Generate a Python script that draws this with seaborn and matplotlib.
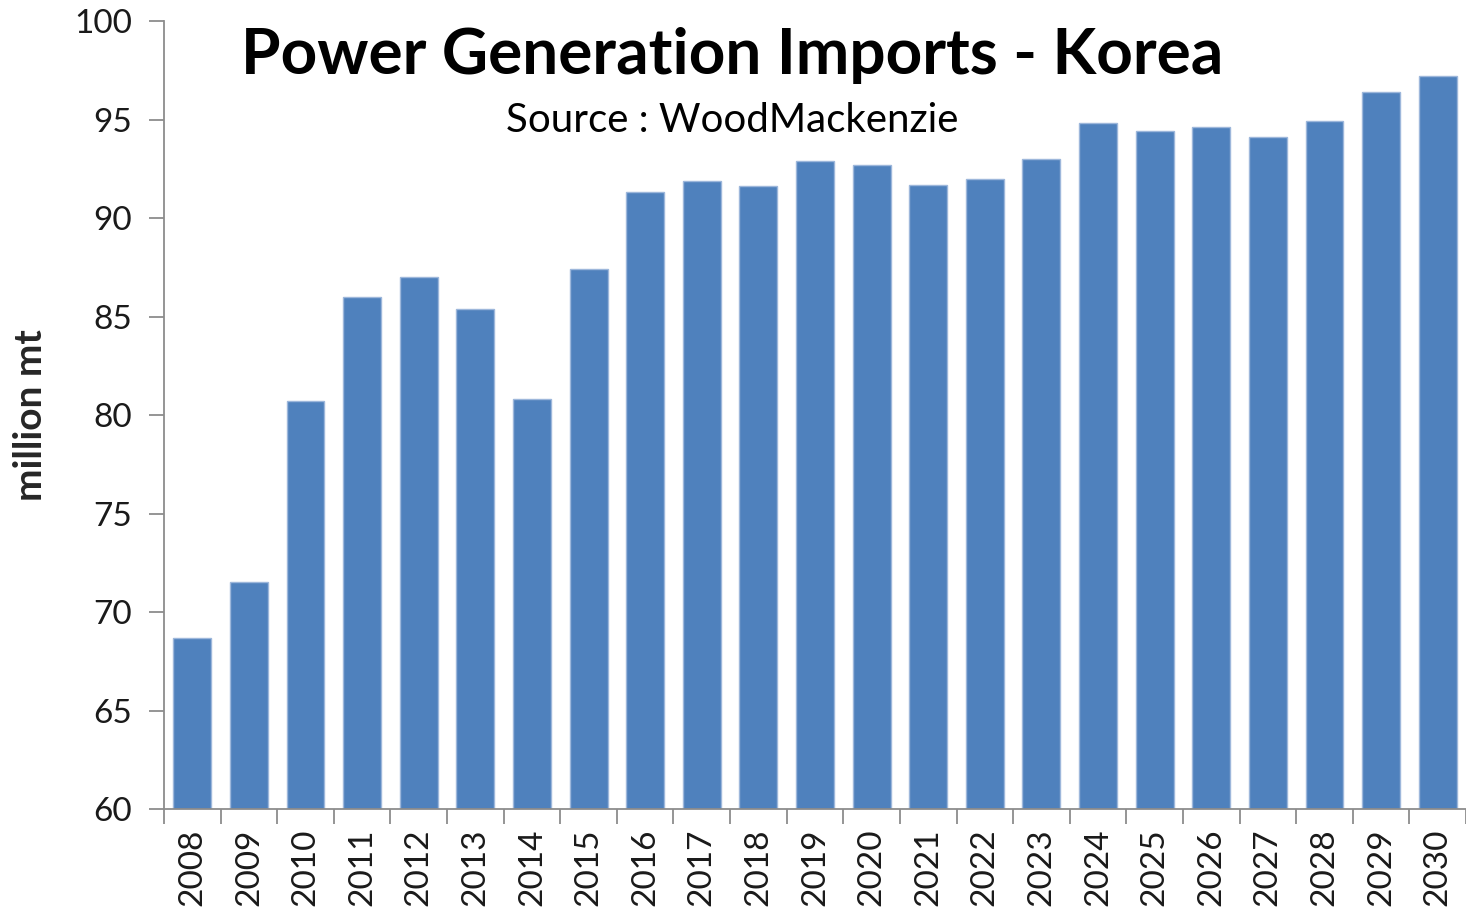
import matplotlib
matplotlib.use("Agg")
import matplotlib.pyplot as plt
import pandas as pd
import seaborn as sns

years = [str(y) for y in range(2008, 2031)]
imports_mt = [
    68.7, 71.5, 80.7, 86.0, 87.0, 85.4, 80.8, 87.4, 91.3, 91.9, 91.6, 92.9,
    92.7, 91.7, 92.0, 93.0, 94.8, 94.4, 94.6, 94.1, 94.9, 96.4, 97.2,
]
y_ticks = [60, 65, 70, 75, 80, 85, 90, 95, 100]

df = pd.DataFrame({"year": years, "imports": imports_mt})

sns.set_style("white")
plt.rcParams["font.family"] = ["Lato", "DejaVu Sans"]

fig = plt.figure(figsize=(14.66, 9.13), dpi=100)
ax = fig.add_axes([164 / 1466, 1 - 809 / 913, 1302 / 1466, (809 - 21) / 913])

sns.barplot(
    data=df,
    x="year",
    y="imports",
    color="#4F81BD",
    saturation=1,
    width=0.67,
    edgecolor="#9DB7DB",
    linewidth=1,
    ax=ax,
)

ax.set_ylim(60, 100)
ax.set_yticks(y_ticks)
ax.set_xlim(-0.5, len(years) - 0.5)
ax.set_xticks(range(len(years)))
ax.set_xticklabels(years, rotation=90)
ax.set_xticks([i - 0.5 for i in range(len(years) + 1)], minor=True)

ax.tick_params(axis="x", which="major", length=0, labelsize=24, pad=14, bottom=True)
ax.tick_params(axis="x", which="minor", length=11, width=1.3, color="#8C8C8C",
               direction="out", bottom=True)
ax.tick_params(axis="y", length=11, width=1.3, color="#8C8C8C", labelsize=24, pad=12,
               direction="out", left=True)
for t in ax.get_xticklabels() + ax.get_yticklabels():
    t.set_color("#1A1A1A")

for side in ["top", "right"]:
    ax.spines[side].set_visible(False)
for side in ["left", "bottom"]:
    ax.spines[side].set_color("#8C8C8C")
    ax.spines[side].set_linewidth(1.3)

ax.set_xlabel("")
ax.set_ylabel("million mt", fontsize=28, fontweight="bold")
ax.yaxis.set_label_coords((48 - 164) / 1302, 0.5)

fig.text(732 / 1466, 1 - 55 / 913, "Power Generation Imports - Korea",
         ha="center", va="center", fontsize=46, fontweight="bold", color="black")
fig.text(732 / 1466, 1 - 121 / 913, "Source : WoodMackenzie",
         ha="center", va="center", fontsize=29, color="black")

fig.savefig("out.png", dpi=100)
